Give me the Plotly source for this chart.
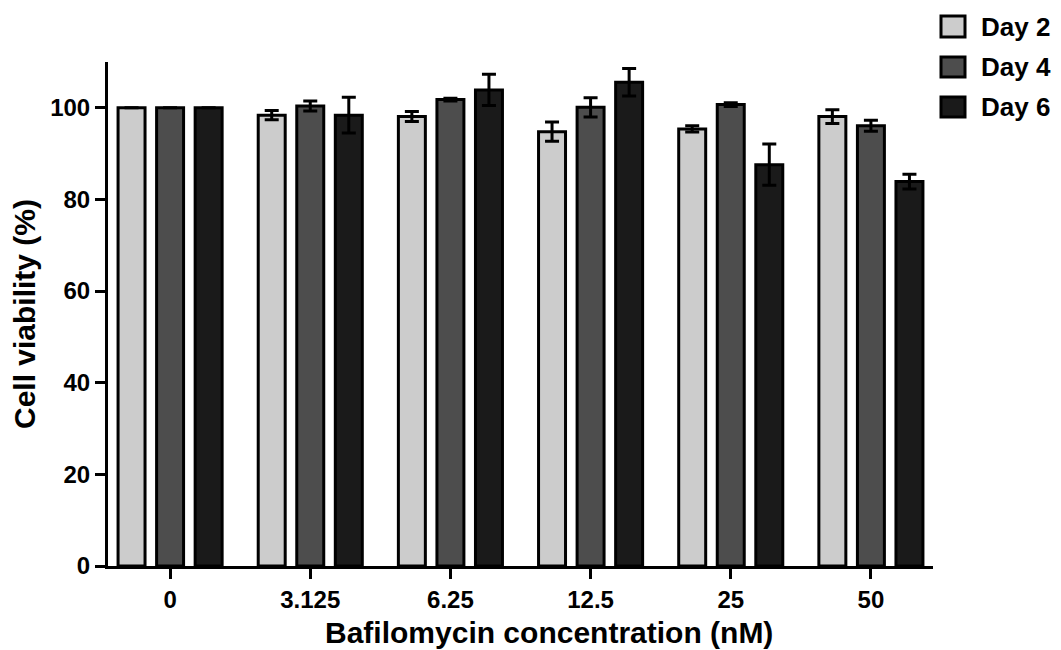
import plotly.graph_objects as go

categories = ["0", "3.125", "6.25", "12.5", "25", "50"]
series_names = ["Day 2", "Day 4", "Day 6"]
day2 = [100.0, 98.4, 98.1, 94.8, 95.4, 98.1]
day4 = [100.0, 100.4, 101.8, 100.1, 100.7, 96.1]
day6 = [100.0, 98.4, 103.9, 105.6, 87.6, 83.9]
day2_err = [0.0, 1.0, 1.1, 2.1, 0.7, 1.5]
day4_err = [0.0, 1.1, 0.3, 2.1, 0.4, 1.2]
day6_err = [0.0, 3.9, 3.4, 3.0, 4.5, 1.6]
colors = ["#cccccc", "#4d4d4d", "#1a1a1a"]
y_ticks = [0, 20, 40, 60, 80, 100]
x_title = "Bafilomycin concentration (nM)"
y_title = "Cell viability (%)"

FONT = "Liberation Sans, Arial, sans-serif"

fig = go.Figure()
for name, vals, errs, col in zip(series_names, [day2, day4, day6],
                                 [day2_err, day4_err, day6_err], colors):
    fig.add_trace(go.Bar(
        name=name, x=categories, y=vals,
        marker=dict(color=col, line=dict(color="black", width=3)),
        error_y=dict(type="data", array=errs, visible=True,
                     color="black", thickness=3, width=7),
        showlegend=False,
    ))

# page body has an 8px margin, so figure coords = screen coords - 8
W, H = 1053, 642
L, T = 100, 54
R = W - 925
B = H - 558
pw, ph = W - L - R, H - T - B

def px_x(px):
    return (px - L) / pw

def px_y(py):
    return (H - B - py) / ph

# custom legend (boxes + labels)
legend_rows = [(8, 29), (49, 69), (89, 109)]
for (y0, y1), name, col in zip(legend_rows, series_names, colors):
    fig.add_shape(type="rect", xref="paper", yref="paper",
                  x0=px_x(933), x1=px_x(957), y0=px_y(y1), y1=px_y(y0),
                  fillcolor=col, line=dict(color="black", width=3))
    fig.add_annotation(xref="paper", yref="paper", x=px_x(971),
                       y=px_y((y0 + y1) / 2), text=name, showarrow=False,
                       xanchor="left", yanchor="middle",
                       font=dict(family=FONT, size=26, color="black", weight="bold"))

# x-axis title (slightly right of plot centre, as in the reference)
fig.add_annotation(xref="paper", yref="paper", x=px_x(541), y=px_y(624),
                   text=x_title, showarrow=False,
                   xanchor="center", yanchor="middle",
                   font=dict(family=FONT, size=30, color="black", weight="bold"))

fig.update_layout(
    width=W, height=H,
    margin=dict(l=L, r=R, t=T, b=B, autoexpand=False),
    plot_bgcolor="white", paper_bgcolor="white",
    barmode="group", bargap=0.175, bargroupgap=0.3,
    font=dict(family=FONT, size=24, color="black", weight="bold"),
    xaxis=dict(
        type="category", range=[-0.443, 5.443],
        showline=True, linecolor="black", linewidth=3,
        ticks="outside", ticklen=10, tickwidth=3, tickcolor="black",
        tickfont=dict(family=FONT, size=24, color="black", weight="bold"),
        showgrid=False, zeroline=False,
    ),
    yaxis=dict(
        range=[0, 110], tickvals=y_ticks,
        showline=True, linecolor="black", linewidth=3,
        ticks="outside", ticklen=10, tickwidth=3, tickcolor="black",
        tickfont=dict(family=FONT, size=24, color="black", weight="bold"),
        title=dict(text=y_title, standoff=7,
                   font=dict(family=FONT, size=30, color="black", weight="bold")),
        showgrid=False, zeroline=False,
    ),
)

fig.write_html("out.html")
